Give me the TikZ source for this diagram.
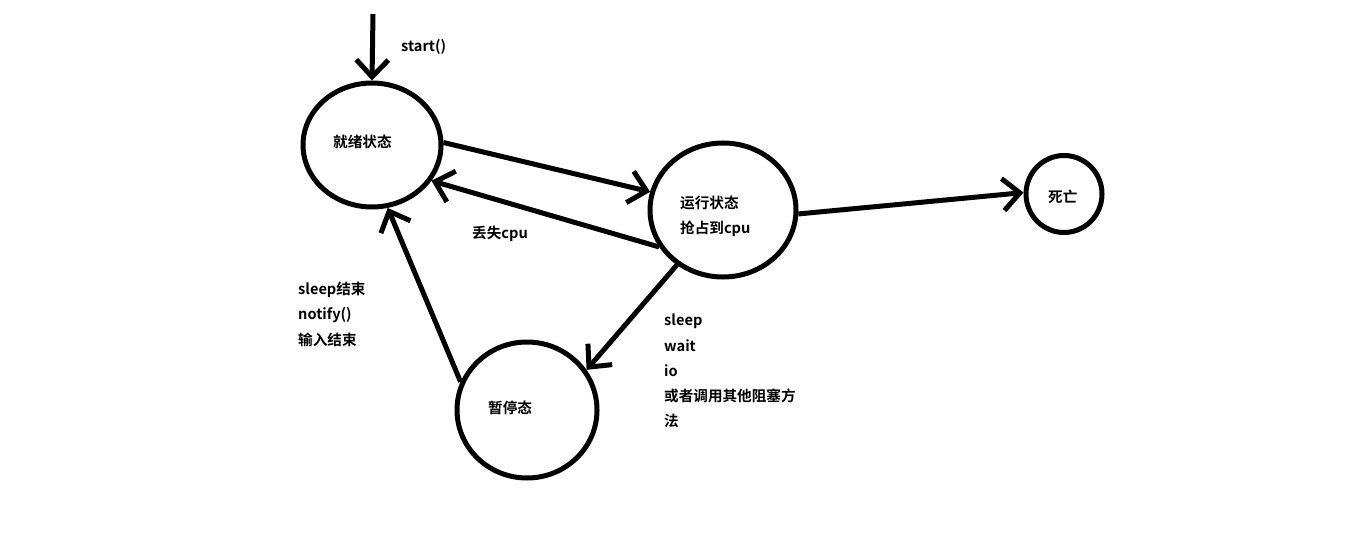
\documentclass[tikz,border=0pt]{standalone}
\usepackage{fontspec}
\setmainfont{Noto Sans CJK SC}[BoldFont={Noto Sans CJK SC Bold}]
\usetikzlibrary{shapes.geometric,arrows.meta}
\begin{document}
\begin{tikzpicture}[x=1pt,y=-1pt,
  state/.style={draw=black,line width=5pt,ellipse,inner sep=0pt,fill=white},
  flow/.style={draw=black,line width=5pt,-{Straight Barb[length=17pt,width=32pt,line width=5pt]}},
  lbl/.style={anchor=west,inner sep=0pt,font=\fontsize{14.6}{16}\selectfont\bfseries}
]
\useasboundingbox (0,0) rectangle (1346,556);
\fill[white] (0,0) rectangle (1346,556);

% states
\node[state,minimum width=138pt,minimum height=124pt] (ready) at (372,145) {};
\node[state,minimum width=146pt,minimum height=134pt] (run) at (723,210) {};
\node[state,minimum width=76pt,minimum height=77pt] (dead) at (1064,194) {};
\node[state,minimum width=140pt,minimum height=136pt] (pause) at (527,410) {};

% state names
\node[lbl] (tready) at (333,142) {就绪状态};
\node[lbl] (trun1) at (680,203) {运行状态};
\node[lbl] (trun2) at (680,229) {抢占到cpu};
\node[lbl] (tdead) at (1048,197) {死亡};
\node[lbl] (tpause) at (488,408) {暂停态};

% transitions
\coordinate (src) at (373,14);
\draw[flow] (src) -- (ready.north);
\draw[flow] (ready.2) -- (run.166);
\draw[flow] (run.210) -- (ready.-31);
\draw[flow] (run.-3) -- (dead.178);
\draw[flow] (run.230) -- (pause.34);
\draw[flow] (pause.157) -- (ready.-76);

% transition labels
\node[lbl] (lstart) at (401,47) {start()};
\node[lbl] (llost) at (472,234) {丢失cpu};
\node[lbl] (lw1) at (298,290) {sleep结束};
\node[lbl] (lw2) at (298,315) {notify()};
\node[lbl] (lw3) at (298,340) {输入结束};
\node[lbl] (lb1) at (664,321) {sleep};
\node[lbl] (lb2) at (664,346) {wait};
\node[lbl] (lb3) at (664,371) {io};
\node[lbl] (lb4) at (664,396) {或者调用其他阻塞方};
\node[lbl] (lb5) at (664,421) {法};
\end{tikzpicture}
\end{document}
